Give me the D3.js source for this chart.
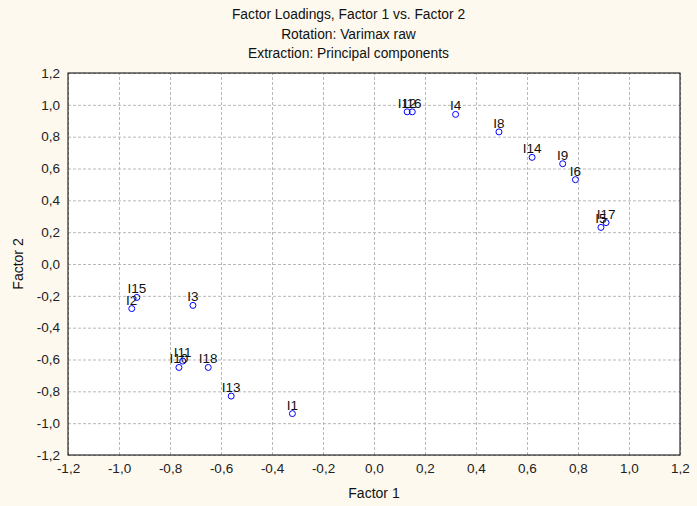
<!DOCTYPE html>
<html>
<head>
<meta charset="utf-8">
<script src="https://cdn.jsdelivr.net/npm/d3@7"></script>
<style>
  body { margin: 0; background: #fdf9ef; }
  svg { display: block; font-family: "Liberation Sans", Arial, sans-serif; }
  .grid line { stroke: #b8b8b8; stroke-dasharray: 3,2; }
  .grid path { display: none; }
  .tick text { fill: #222; font-size: 13.5px; }
  .ptlabel { font-size: 13.5px; fill: #111; }
</style>
</head>
<body>
<div id="chart"></div>
<script>
// factor loadings
var items   = ['I1','I2','I3','I4','I5','I6','I8','I9','I10','I11','I12','I13','I14','I15','I16','I17','I18'];
var factor1 = [-0.32,-0.95,-0.71, 0.32, 0.89, 0.79, 0.49, 0.74,-0.765,-0.75, 0.13,-0.56, 0.62,-0.93, 0.15, 0.91,-0.65];
var factor2 = [-0.94,-0.28,-0.26, 0.94, 0.23, 0.53, 0.83, 0.63,-0.65,-0.61, 0.956,-0.83, 0.67,-0.21, 0.956, 0.26,-0.65];
var tickVals = [-1.2,-1.0,-0.8,-0.6,-0.4,-0.2,0.0,0.2,0.4,0.6,0.8,1.0,1.2];
var titles = ['Factor Loadings, Factor 1 vs. Factor 2', 'Rotation: Varimax raw', 'Extraction: Principal components'];

var w = 697, h = 506;
var padL = 68, padR = 680, padT = 73, padB = 455;

var loc = d3.formatLocale({decimal: ",", thousands: ".", grouping: [3], currency: ["", ""], minus: "-"});
var fmt = loc.format(".1f");

var xScale = d3.scaleLinear().domain([-1.2, 1.2]).range([padL, padR]);
var yScale = d3.scaleLinear().domain([-1.2, 1.2]).range([padB, padT]);

var svg = d3.select("#chart").append("svg")
    .attr("width", w)
    .attr("height", h);

svg.append("rect")
    .attr("x", padL).attr("y", padT)
    .attr("width", padR - padL).attr("height", padB - padT)
    .attr("fill", "#ffffff");

// grid + tick labels
var xAxis = d3.axisBottom(xScale).tickValues(tickVals).tickFormat(fmt)
    .tickSize(-(padB - padT)).tickPadding(8);
var yAxis = d3.axisLeft(yScale).tickValues(tickVals).tickFormat(fmt)
    .tickSize(-(padR - padL)).tickPadding(8);

svg.append("g")
    .attr("class", "grid")
    .attr("transform", "translate(0," + padB + ")")
    .call(xAxis);

svg.append("g")
    .attr("class", "grid")
    .attr("transform", "translate(" + padL + ",0)")
    .call(yAxis);

// frame
svg.append("rect")
    .attr("x", padL).attr("y", padT)
    .attr("width", padR - padL).attr("height", padB - padT)
    .attr("fill", "none")
    .attr("stroke", "#000")
    .attr("stroke-width", 1);

var pts = items.map(function(d, i){
    return {name: d, x: factor1[i], y: factor2[i]};
});

svg.selectAll("circle.pt")
    .data(pts)
    .enter()
    .append("circle")
    .attr("class", "pt")
    .attr("cx", function(d){ return xScale(d.x); })
    .attr("cy", function(d){ return yScale(d.y); })
    .attr("r", 3)
    .attr("fill", "none")
    .attr("stroke", "#0000ff")
    .attr("stroke-width", 1);

svg.selectAll("text.ptlabel")
    .data(pts)
    .enter()
    .append("text")
    .attr("class", "ptlabel")
    .attr("x", function(d){ return xScale(d.x); })
    .attr("y", function(d){ return yScale(d.y) - 4; })
    .style("text-anchor", "middle")
    .text(function(d){ return d.name; });

// titles
svg.selectAll("text.title")
    .data(titles)
    .enter()
    .append("text")
    .attr("class", "title")
    .attr("x", w / 2)
    .attr("y", function(d, i){ return 19 + i * 19.5; })
    .style("text-anchor", "middle")
    .style("font-size", "13.8px")
    .attr("fill", "#111")
    .text(function(d){ return d; });

svg.append("text")
    .attr("x", (padL + padR) / 2)
    .attr("y", 498)
    .style("text-anchor", "middle")
    .style("font-size", "14px")
    .attr("fill", "#111")
    .text("Factor 1");

svg.append("text")
    .attr("transform", "rotate(-90)")
    .attr("x", -(padT + padB) / 2)
    .attr("y", 23)
    .style("text-anchor", "middle")
    .style("font-size", "14px")
    .attr("fill", "#111")
    .text("Factor 2");
</script>
</body>
</html>
